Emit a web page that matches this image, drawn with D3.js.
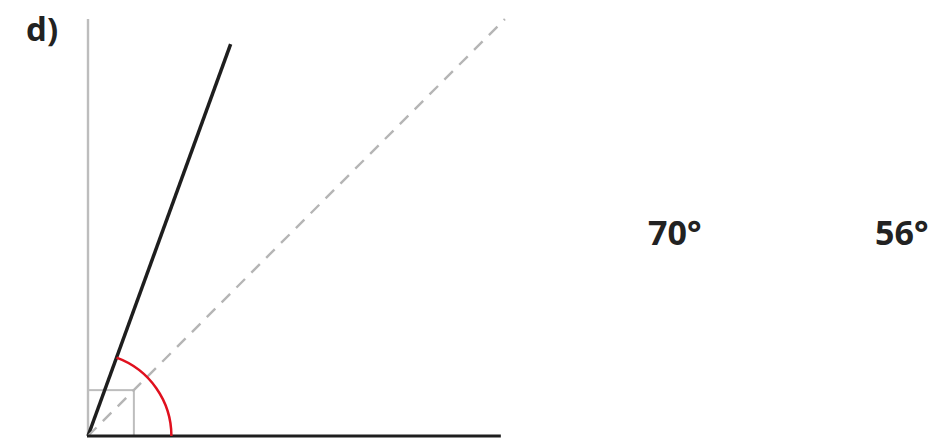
<!DOCTYPE html>
<html>
<head>
<meta charset="utf-8">
<script src="https://cdn.jsdelivr.net/npm/d3@7"></script>
<style>
  body { margin: 0; background: #fff; }
  text { font-family: "Open Sans", sans-serif; font-weight: bold; fill: #222; }
</style>
</head>
<body>
<script>
// angles in degrees, lengths in drawing units (axis = 100)
var rayAngles = [70, 45];
var rayLengths = [100, 141.4];
var rayKinds = ["solid", "dashed"];
var axisLengths = [99, 100];   // horizontal, vertical
var squareSize = 11;
var arcRadius = 20;
var arcAngle = 70;
var angleLabels = ["70°", "56°"];

var width = 948, height = 438;

var svg = d3.select("body").append("svg")
  .attr("width", width)
  .attr("height", height);

var x = d3.scaleLinear().domain([0, 100]).range([88, 505]);
var y = d3.scaleLinear().domain([0, 100]).range([436, 19]);
var px = d3.scaleLinear().domain([0, 100]).range([0, 417]);

function rad(a) { return a * Math.PI / 180; }

// part label
svg.append("text")
  .attr("x", 26).attr("y", 41)
  .attr("font-size", 33)
  .text("d)");

// vertical axis (gray)
svg.append("line")
  .attr("x1", x(0)).attr("y1", y(0))
  .attr("x2", x(0)).attr("y2", y(axisLengths[1]))
  .attr("stroke", "#bdbdbd").attr("stroke-width", 2.4);

// small square at the origin
svg.append("rect")
  .attr("x", x(0)).attr("y", y(squareSize))
  .attr("width", px(squareSize)).attr("height", px(squareSize))
  .attr("fill", "none")
  .attr("stroke", "#bdbdbd").attr("stroke-width", 2);

// rays
svg.selectAll("line.ray")
  .data(rayAngles)
  .enter()
  .append("line")
  .attr("class", "ray")
  .attr("x1", x(0)).attr("y1", y(0))
  .attr("x2", function(d, i) { return x(rayLengths[i] * Math.cos(rad(d))); })
  .attr("y2", function(d, i) { return y(rayLengths[i] * Math.sin(rad(d))); })
  .attr("stroke", function(d, i) { return rayKinds[i] === "dashed" ? "#b5b5b5" : "#1e1e1e"; })
  .attr("stroke-width", function(d, i) { return rayKinds[i] === "dashed" ? 2.4 : 3.5; })
  .attr("stroke-dasharray", function(d, i) { return rayKinds[i] === "dashed" ? "12,9" : null; });

// horizontal axis (black)
svg.append("line")
  .attr("x1", x(0) - 1).attr("y1", y(0))
  .attr("x2", x(axisLengths[0])).attr("y2", y(0))
  .attr("stroke", "#1e1e1e").attr("stroke-width", 3);

// red angle arc
var arc = d3.arc()
  .innerRadius(px(arcRadius))
  .outerRadius(px(arcRadius))
  .startAngle(rad(90 - arcAngle))
  .endAngle(rad(90));

svg.append("path")
  .attr("transform", "translate(" + x(0) + "," + y(0) + ")")
  .attr("d", arc())
  .attr("fill", "none")
  .attr("stroke", "#e0101e").attr("stroke-width", 2.5);

// answer labels
var labelX = [648, 875];
svg.selectAll("text.answer")
  .data(angleLabels)
  .enter()
  .append("text")
  .attr("class", "answer")
  .attr("x", function(d, i) { return labelX[i]; })
  .attr("y", 245)
  .attr("font-size", 34)
  .text(function(d) { return d; });
</script>
</body>
</html>
